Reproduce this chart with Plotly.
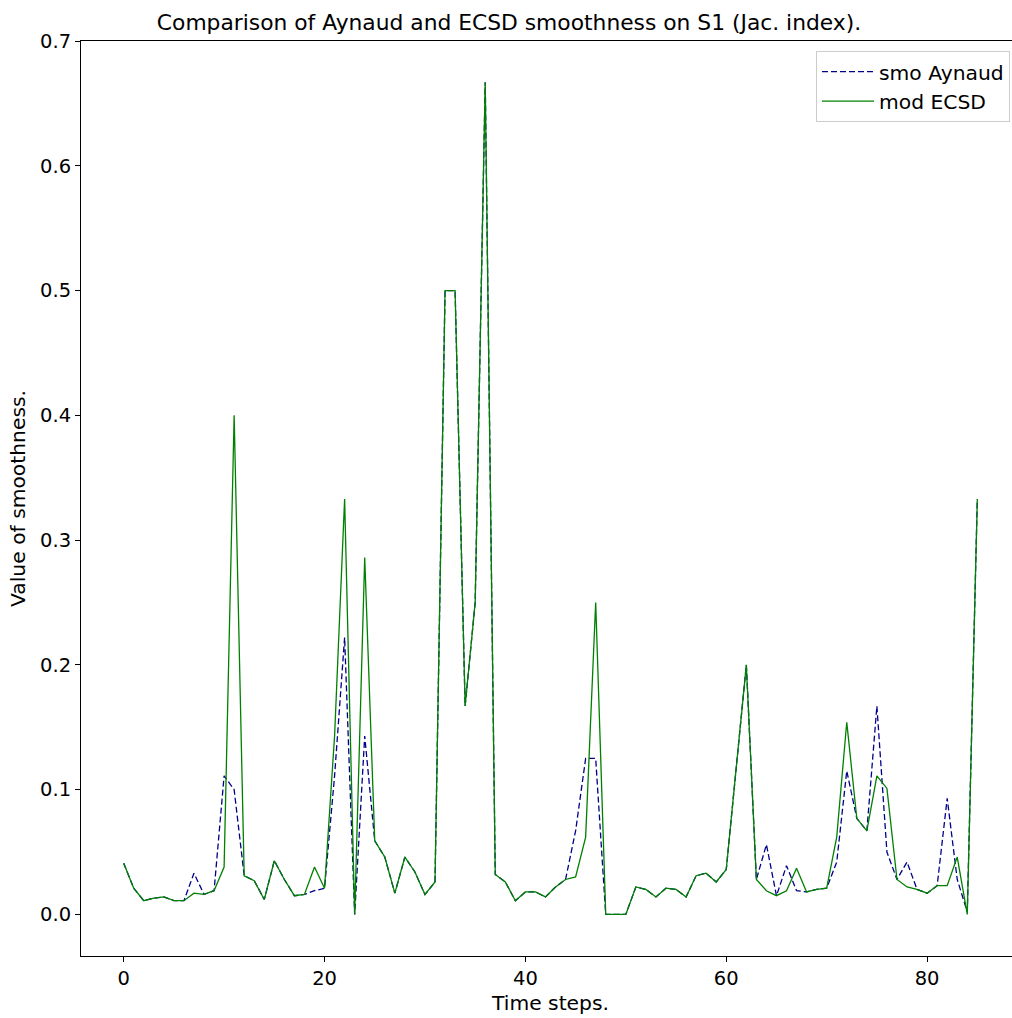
import plotly.graph_objects as go

time_steps = list(range(86))

smo_aynaud = [
    0.041, 0.021, 0.011, 0.013, 0.014, 0.011, 0.011, 0.033, 0.016, 0.019,
    0.111, 0.100, 0.031, 0.027, 0.012, 0.043, 0.028, 0.015, 0.016, 0.019,
    0.021, 0.111, 0.222, 0.000, 0.143, 0.059, 0.046, 0.017, 0.046, 0.034,
    0.016, 0.026, 0.500, 0.500, 0.167, 0.250, 0.667, 0.032, 0.026, 0.011,
    0.018, 0.018, 0.014, 0.022, 0.028, 0.067, 0.125, 0.125, 0.000, 0.000,
    0.000, 0.022, 0.020, 0.014, 0.021, 0.020, 0.014, 0.031, 0.033, 0.026,
    0.036, 0.118, 0.200, 0.028, 0.056, 0.015, 0.039, 0.019, 0.018, 0.020,
    0.021, 0.042, 0.115, 0.077, 0.067, 0.167, 0.050, 0.028, 0.042, 0.020,
    0.017, 0.023, 0.093, 0.028, 0.002, 0.333,
]

mod_ecsd = [
    0.041, 0.021, 0.011, 0.013, 0.014, 0.011, 0.011, 0.017, 0.016, 0.019,
    0.038, 0.400, 0.031, 0.027, 0.012, 0.043, 0.028, 0.015, 0.016, 0.038,
    0.021, 0.143, 0.333, 0.000, 0.286, 0.059, 0.046, 0.017, 0.046, 0.034,
    0.016, 0.026, 0.500, 0.500, 0.167, 0.250, 0.667, 0.032, 0.026, 0.011,
    0.018, 0.018, 0.014, 0.022, 0.028, 0.030, 0.062, 0.250, 0.000, 0.000,
    0.000, 0.022, 0.020, 0.014, 0.021, 0.020, 0.014, 0.031, 0.033, 0.026,
    0.036, 0.118, 0.200, 0.028, 0.019, 0.015, 0.019, 0.037, 0.018, 0.020,
    0.021, 0.062, 0.154, 0.077, 0.067, 0.111, 0.101, 0.028, 0.022, 0.020,
    0.017, 0.023, 0.023, 0.046, 0.000, 0.333,
]

x_ticks = [0, 20, 40, 60, 80]
y_ticks = [0.0, 0.1, 0.2, 0.3, 0.4, 0.5, 0.6, 0.7]

font_family = "DejaVu Sans, Arial, sans-serif"

# The axes in the reference run slightly past the right edge of the picture,
# so the figure is a little wider than the window and the page margin is removed.
FIG_W, FIG_H = 1021, 1018

fig = go.Figure()
fig.add_trace(go.Scatter(
    x=time_steps, y=smo_aynaud, mode="lines", name="smo Aynaud",
    line=dict(color="#00008B", width=1.3, dash="6px,3px"),
))
fig.add_trace(go.Scatter(
    x=time_steps, y=mod_ecsd, mode="lines", name="mod ECSD",
    line=dict(color="#008000", width=1.3),
))

fig.update_layout(
    width=FIG_W, height=FIG_H,
    margin=dict(l=81, r=1, t=41, b=62, autoexpand=False),
    paper_bgcolor="white", plot_bgcolor="white",
    font=dict(family=font_family, color="black", size=19),
    title=dict(
        text="Comparison of Aynaud and ECSD smoothness on S1 (Jac. index).",
        x=509 / FIG_W, xanchor="center", xref="container",
        y=1 - 22 / FIG_H, yanchor="middle", yref="container",
        font=dict(size=21.8, family=font_family, color="black"),
    ),
    showlegend=True,
    legend=dict(
        x=(1010 - 81) / (FIG_W - 82), y=1 - 10 / 915, xanchor="right", yanchor="top",
        bgcolor="rgba(255,255,255,0.8)", bordercolor="#cccccc", borderwidth=1,
        font=dict(size=20.3, family=font_family, color="black"),
        tracegroupgap=4, itemwidth=52,
    ),
)

fig.update_xaxes(
    range=[-4.25, 89.25], tickvals=x_ticks, ticktext=[str(v) for v in x_ticks],
    showgrid=False, zeroline=False, showline=True, linecolor="black", linewidth=1,
    mirror=True, ticks="outside", ticklen=5, tickcolor="black",
    tickfont=dict(size=19.5, family=font_family),
    title=dict(text="Time steps.", font=dict(size=20.3, family=font_family), standoff=6),
)
fig.update_yaxes(
    range=[-0.03333, 0.7], tickvals=y_ticks, ticktext=[f"{v:.1f}" for v in y_ticks],
    showgrid=False, zeroline=False, showline=True, linecolor="black", linewidth=1,
    mirror=False, ticks="outside", ticklen=5, tickcolor="black",
    tickfont=dict(size=19.5, family=font_family),
    title=dict(text="Value of smoothness.", font=dict(size=20.3, family=font_family), standoff=8),
)

fig.write_html(
    "out.html",
    config={"displayModeBar": False},
    post_script="document.body.style.margin='0';document.body.style.overflow='hidden';",
)
